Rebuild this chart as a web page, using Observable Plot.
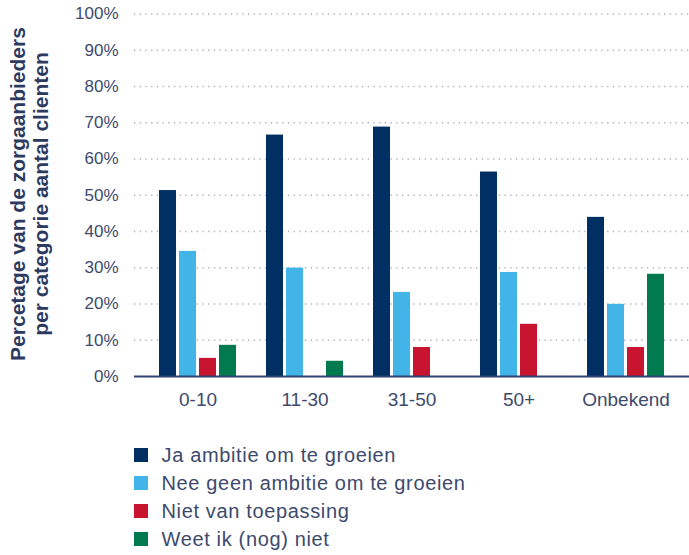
<!DOCTYPE html>
<html>
<head>
<meta charset="utf-8">
<script src="https://cdn.jsdelivr.net/npm/d3@7"></script>
<script src="https://cdn.jsdelivr.net/npm/@observablehq/plot@0.6"></script>
<style>
  html, body { margin: 0; padding: 0; background: #fff; }
  body { width: 689px; height: 555px; overflow: hidden; font-family: "Liberation Sans", Arial, sans-serif; }
  #wrap { position: relative; width: 689px; height: 555px; }
  .layer { position: absolute; left: 0; top: 0; }
  .layer svg { display: block; }
  #ytitle { position: absolute; width: 380px; height: 46px; left: -161px; top: 171px;
    transform: rotate(-90deg); text-align: center; font-weight: bold; font-size: 21px; line-height: 23px; color: #2b3a5e; }
  #legend { position: absolute; left: 134px; top: 441px; }
  .row { display: flex; align-items: center; height: 28px; font-size: 20px; letter-spacing: 0.65px; color: #3d4a6c; }
  .sw { width: 13.5px; height: 13.5px; margin-right: 14px; flex: none; }
</style>
</head>
<body>
<div id="wrap">
  <div id="grid" class="layer"></div>
  <div id="bars" class="layer"></div>
  <div id="base" class="layer"></div>
  <div id="ytitle">Percetage van de zorgaanbieders<br>per categorie aantal clienten</div>
  <div id="legend"></div>
</div>
<script>
const categories = ["0-10", "11-30", "31-50", "50+", "Onbekend"];
const series = ["Ja ambitie om te groeien", "Nee geen ambitie om te groeien", "Niet van toepassing", "Weet ik (nog) niet"];
const jaAmbitie = [51.3, 66.6, 68.8, 56.4, 43.9];
const neeAmbitie = [34.5, 29.9, 23.2, 28.7, 19.9];
const nietVanToepassing = [5.0, 0, 8.0, 14.4, 8.0];
const weetIkNiet = [8.6, 4.2, 0, 0, 28.2];
const yTicks = [0, 10, 20, 30, 40, 50, 60, 70, 80, 90, 100];
const colors = ["#003063", "#42b4e7", "#c8142e", "#007a4e"];

const seriesValues = [jaAmbitie, neeAmbitie, nietVanToepassing, weetIkNiet];
const table = categories.flatMap((c, i) => series.map((s, j) => ({category: c, series: s, value: seriesValues[j][i]})));

const common = {
  width: 689,
  height: 420,
  marginLeft: 134,
  marginRight: 0,
  marginTop: 13.5,
  marginBottom: 44,
  style: {fontFamily: "'Liberation Sans', Arial, sans-serif", fontSize: "19px", color: "#3d4a6c", background: "transparent"},
  y: {domain: [0, 100], axis: null}
};

// Layer 1: dotted grid and percentage labels
document.getElementById("grid").appendChild(Plot.plot({
  ...common,
  marks: [
    Plot.ruleY(yTicks.slice(1), {stroke: "#aab0c4", strokeWidth: 1.3, strokeDasharray: "1.3,4.4"}),
    Plot.text(yTicks, {y: d => d, text: d => d + "%", frameAnchor: "left", textAnchor: "end", dx: -16, fontSize: 17, fill: "#3d4a6c"})
  ]
}));

// Layer 2: grouped bars (faceted by category) and category labels
document.getElementById("bars").appendChild(Plot.plot({
  ...common,
  fx: {domain: categories, paddingInner: 0, paddingOuter: 0.0814, axis: "bottom", tickSize: 0, tickPadding: 16, label: null},
  x: {domain: series, paddingInner: 0.175, paddingOuter: 0.697, axis: null},
  color: {domain: series, range: colors},
  marks: [
    Plot.barY(table, {fx: "category", x: "series", y: "value", fill: "series"})
  ]
}));

// Layer 3: baseline
document.getElementById("base").appendChild(Plot.plot({
  ...common,
  marks: [
    Plot.ruleY([0], {stroke: "#2f4370", strokeWidth: 2})
  ]
}));

const legend = document.getElementById("legend");
series.forEach((s, i) => {
  const row = document.createElement("div");
  row.className = "row";
  row.innerHTML = `<span class="sw" style="background:${colors[i]}"></span><span>${s}</span>`;
  legend.appendChild(row);
});
</script>
</body>
</html>
